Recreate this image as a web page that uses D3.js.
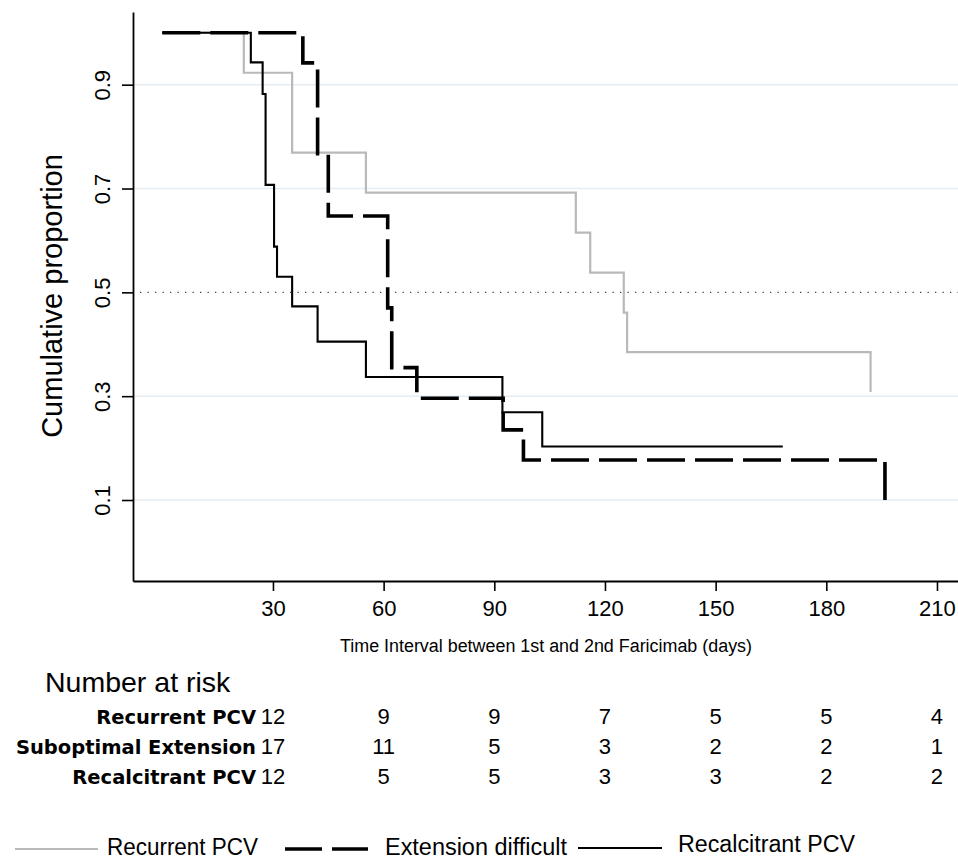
<!DOCTYPE html>
<html>
<head>
<meta charset="utf-8">
<script src="https://cdn.jsdelivr.net/npm/d3@7"></script>
<style>
  html, body { margin: 0; padding: 0; background: #fff; }
  svg { display: block; }
</style>
</head>
<body>
<svg id="chart" width="958" height="867"></svg>
<script>
// ---------------- data ----------------
const recurrentTimes  = [0, 22.1, 35.2, 55.2, 112.1, 116.0, 125.1, 126.0, 192.0];
const recurrentValues = [1, 0.923, 0.769, 0.692, 0.615, 0.538, 0.461, 0.385, 0.308];

const extensionTimes  = [0, 38.1, 42.1, 45.0, 61.1, 62.2, 69.0, 92.4, 97.9, 195.9];
const extensionValues = [1, 0.942, 0.767, 0.647, 0.470, 0.355, 0.296, 0.235, 0.177, 0.091];

const recalcitrantTimes  = [0, 24.0, 27.2, 28.0, 30.3, 31.1, 35.2, 42.1, 55.2, 92.2, 103.0, 168.2];
const recalcitrantValues = [1, 0.943, 0.882, 0.707, 0.588, 0.530, 0.473, 0.405, 0.337, 0.269, 0.203, 0.203];

const xTicks = [30, 60, 90, 120, 150, 180, 210];
const yTicks = [0.1, 0.3, 0.5, 0.7, 0.9];
const gridValues = [0.1, 0.3, 0.7, 0.9];
const medianLine = 0.5;

const riskTimes = [30, 60, 90, 120, 150, 180, 210];
const riskLabels = ["Recurrent PCV", "Suboptimal Extension", "Recalcitrant PCV"];
const riskRecurrent    = [12, 9, 9, 7, 5, 5, 4];
const riskSuboptimal   = [17, 11, 5, 3, 2, 2, 1];
const riskRecalcitrant = [12, 5, 5, 3, 3, 2, 2];

const legendLabels = ["Recurrent PCV", "Extension difficult", "Recalcitrant PCV"];

// ---------------- layout ----------------
const svg = d3.select("#chart");
const x = d3.scaleLinear().domain([-7.94, 215.7]).range([133, 958]);
const y = d3.scaleLinear().domain([-0.056, 1.04]).range([581, 12]);

const SANS = "'Liberation Sans', Arial, Helvetica, sans-serif";

// grid lines
svg.append("g").selectAll("line").data(gridValues).join("line")
  .attr("x1", x.range()[0]).attr("x2", x.range()[1])
  .attr("y1", d => y(d)).attr("y2", d => y(d))
  .attr("stroke", "#e6edf2").attr("stroke-width", 1.6);

// median dotted line
svg.append("line")
  .attr("x1", x.range()[0] + 7).attr("x2", x.range()[1])
  .attr("y1", y(medianLine)).attr("y2", y(medianLine))
  .attr("stroke", "#444").attr("stroke-width", 1.4)
  .attr("stroke-dasharray", "1.3,6.2");

// axes
const xAxis = d3.axisBottom(x).tickValues(xTicks).tickSize(10).tickSizeOuter(0).tickPadding(9);
const gx = svg.append("g").attr("transform", `translate(0,${y.range()[0]})`).call(xAxis);
gx.select(".domain").attr("stroke", "#000").attr("stroke-width", 1.8);
gx.selectAll(".tick line").attr("stroke", "#000").attr("stroke-width", 1.6);
gx.selectAll(".tick text").attr("font-family", SANS).attr("font-size", 22).attr("fill", "#000");

const yAxis = d3.axisLeft(y).tickValues(yTicks).tickSize(11).tickSizeOuter(0).tickFormat(d3.format(".1f"));
const gy = svg.append("g").attr("transform", `translate(${x.range()[0]},0)`).call(yAxis);
gy.select(".domain").attr("stroke", "#000").attr("stroke-width", 1.8);
gy.selectAll(".tick line").attr("stroke", "#000").attr("stroke-width", 1.6);
gy.selectAll(".tick text")
  .attr("font-family", SANS).attr("font-size", 22).attr("fill", "#000")
  .attr("x", null).attr("dy", null)
  .attr("text-anchor", "middle")
  .attr("transform", "translate(-23,0) rotate(-90)");

// axis titles
svg.append("text")
  .attr("transform", `translate(62,${(150 + 442) / 2}) rotate(-90)`)
  .attr("text-anchor", "middle")
  .attr("font-family", SANS).attr("font-size", 29).attr("fill", "#000")
  .text("Cumulative proportion");

svg.append("text")
  .attr("x", 340).attr("y", 652)
  .attr("font-family", SANS).attr("font-size", 18).attr("fill", "#000")
  .attr("textLength", 412).attr("lengthAdjust", "spacingAndGlyphs")
  .text("Time Interval between 1st and 2nd Faricimab (days)");

// curves
const line = d3.line().x(d => x(d[0])).y(d => y(d[1])).curve(d3.curveStepAfter);
const series = [
  {t: recurrentTimes, v: recurrentValues, color: "#b9b9b9", width: 2.2, dash: null},
  {t: extensionTimes, v: extensionValues, color: "#000", width: 3.6, dash: "38,10"},
  {t: recalcitrantTimes, v: recalcitrantValues, color: "#000", width: 2.1, dash: null}
];
svg.append("g").selectAll("path").data(series).join("path")
  .attr("d", s => line(s.t.map((t, i) => [t, s.v[i]])))
  .attr("fill", "none")
  .attr("stroke", s => s.color)
  .attr("stroke-width", s => s.width)
  .attr("stroke-dasharray", s => s.dash);

// number at risk
svg.append("text")
  .attr("x", 45).attr("y", 692)
  .attr("font-family", SANS).attr("font-size", 28.5).attr("fill", "#000")
  .text("Number at risk");

const riskRows = [riskRecurrent, riskSuboptimal, riskRecalcitrant];
const rowBase = [724, 754, 784];
riskRows.forEach((row, r) => {
  svg.append("text")
    .attr("x", 256).attr("y", rowBase[r])
    .attr("text-anchor", "end")
    .attr("font-family", "'DejaVu Sans', sans-serif").attr("font-weight", "bold")
    .attr("font-size", 19.5).attr("fill", "#000")
    .text(riskLabels[r]);
  svg.append("g").selectAll("text").data(row).join("text")
    .attr("x", (d, i) => x(riskTimes[i]))
    .attr("y", rowBase[r])
    .attr("text-anchor", "middle")
    .attr("font-family", SANS).attr("font-size", 22).attr("fill", "#000")
    .text(d => d);
});

// legend
const legendItems = [
  {x1: 15, x2: 98, ly: 849, tx: 107, ty: 855, tw: 151, color: "#b9b9b9", width: 2.2, dash: null},
  {x1: 285, x2: 368, ly: 849, tx: 385, ty: 855, tw: 182, color: "#000", width: 3.6, dash: "37,10"},
  {x1: 578, x2: 662, ly: 848, tx: 678, ty: 852, tw: 177, color: "#000", width: 2.1, dash: null}
];
legendItems.forEach((it, i) => {
  svg.append("line")
    .attr("x1", it.x1).attr("x2", it.x2).attr("y1", it.ly).attr("y2", it.ly)
    .attr("stroke", it.color).attr("stroke-width", it.width)
    .attr("stroke-dasharray", it.dash);
  svg.append("text")
    .attr("x", it.tx).attr("y", it.ty)
    .attr("font-family", SANS).attr("font-size", 23).attr("fill", "#000")
    .attr("textLength", it.tw).attr("lengthAdjust", "spacingAndGlyphs")
    .text(legendLabels[i]);
});
</script>
</body>
</html>
